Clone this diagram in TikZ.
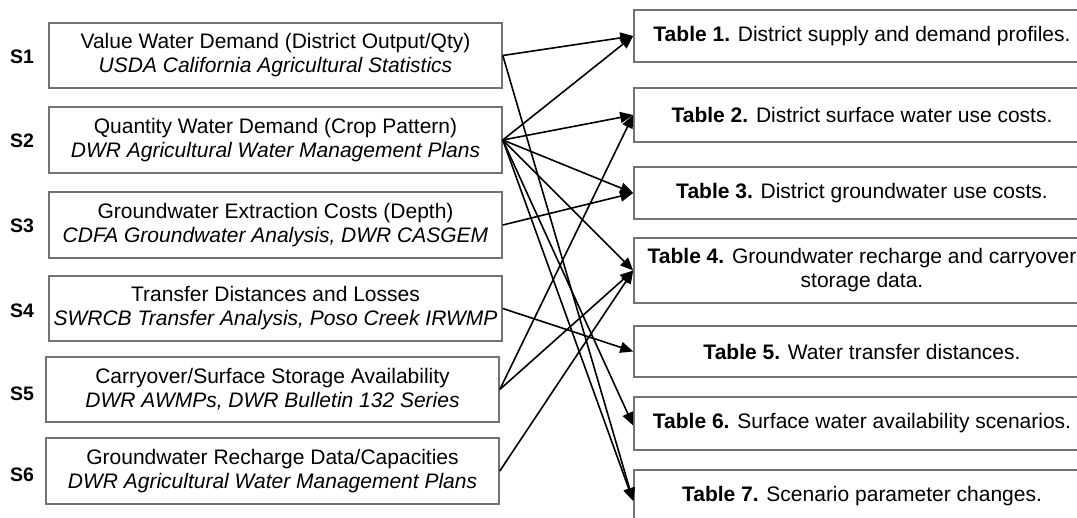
\documentclass[tikz,border=0pt]{standalone}
\usepackage{fontspec}
\setmainfont{Liberation Sans}
\usetikzlibrary{arrows.meta}
\begin{document}
\begin{tikzpicture}[x=1pt,y=-1pt,
  src/.style={draw=black!55, line width=1.6pt, fill=white, inner sep=0pt,
    minimum width=453pt, align=center, font=\fontsize{21}{24}\selectfont},
  tbl/.style={draw=black!55, line width=1.6pt, fill=white, inner sep=0pt,
    minimum width=456pt, align=center, font=\fontsize{21}{24}\selectfont},
  lab/.style={font=\fontsize{19.5}{24}\selectfont\bfseries},
  conn/.style={line width=1.6pt, -{Triangle[length=13pt,width=11pt]}}]
\useasboundingbox (0,0) rectangle (1077,518);
% source boxes
\node[src, minimum height=65pt] (s1) at (275.5,55.5) {Value Water Demand (District Output/Qty)\\\itshape USDA California Agricultural Statistics};
\node[src, minimum height=66pt] (s2) at (275.5,140) {Quantity Water Demand (Crop Pattern)\\\itshape DWR Agricultural Water Management Plans};
\node[src, minimum height=66pt] (s3) at (275.5,225) {Groundwater Extraction Costs (Depth)\\\itshape CDFA Groundwater Analysis, DWR CASGEM};
\node[src, minimum height=65pt] (s4) at (275.5,308.5) {Transfer Distances and Losses\\\itshape SWRCB Transfer Analysis, Poso Creek IRWMP};
\node[src, minimum height=65pt] (s5) at (272.5,389.5) {Carryover/Surface Storage Availability\\\itshape DWR AWMPs, DWR Bulletin 132 Series};
\node[src, minimum height=66pt] (s6) at (272.5,471) {Groundwater Recharge Data/Capacities\\\itshape DWR Agricultural Water Management Plans};
% labels
\node[lab] (l1) at (22,57) {S1};
\node[lab] (l2) at (22,141) {S2};
\node[lab] (l3) at (22,226) {S3};
\node[lab] (l4) at (22,311) {S4};
\node[lab] (l5) at (22,394) {S5};
\node[lab] (l6) at (22,475) {S6};
% table boxes
\node[tbl, minimum height=52pt] (t1) at (862,36) {\textbf{Table 1.} District supply and demand profiles.};
\node[tbl, minimum height=54pt] (t2) at (862,115) {\textbf{Table 2.} District surface water use costs.};
\node[tbl, minimum height=52pt] (t3) at (862,193) {\textbf{Table 3.} District groundwater use costs.};
\node[tbl, minimum height=65pt] (t4) at (862,270.5) {\textbf{Table 4.} Groundwater recharge and carryover\\storage data.};
\node[tbl, minimum height=51pt] (t5) at (862,351.5) {\textbf{Table 5.} Water transfer distances.};
\node[tbl, minimum height=53pt] (t6) at (862,423.5) {\textbf{Table 6.} Surface water availability scenarios.};
\node[tbl, minimum height=52pt] (t7) at (862,496) {\textbf{Table 7.} Scenario parameter changes.};
% connectors
\draw[conn] (s1.east) -- (t1.west);
\draw[conn] (s1.east) -- ([yshift=-5pt]t7.west);
\draw[conn] (s2.east) -- (t1.west);
\draw[conn] (s2.east) -- (t2.west);
\draw[conn] (s2.east) -- (t3.west);
\draw[conn] (s2.east) -- (t4.west);
\draw[conn] (s2.east) -- ([yshift=-2pt]t6.west);
\draw[conn] (s2.east) -- ([yshift=-5pt]t7.west);
\draw[conn] (s3.east) -- (t3.west);
\draw[conn] (s4.east) -- (t5.west);
\draw[conn] (s5.east) -- (t2.west);
\draw[conn] (s5.east) -- (t4.west);
\draw[conn] (s6.east) -- (t4.west);
\end{tikzpicture}
\end{document}
